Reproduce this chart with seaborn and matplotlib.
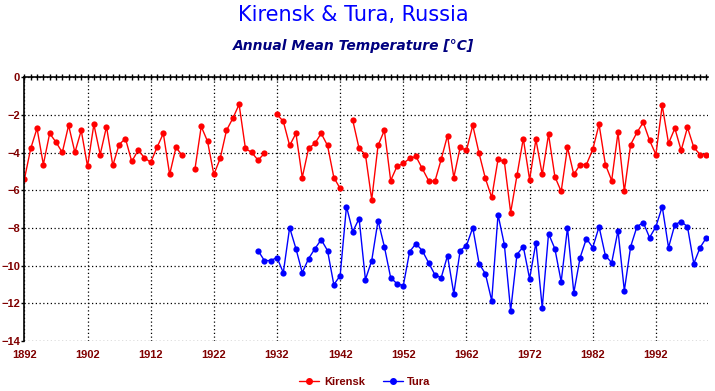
"""
Kirensk & Tura annual mean temperature chart
"""
import numpy as np
import pandas as pd
import matplotlib
matplotlib.use("Agg")
import matplotlib.pyplot as plt
from matplotlib.ticker import MultipleLocator
from matplotlib.lines import Line2D
import seaborn as sns

nan = np.nan

kirensk_years = list(range(1892, 2001))
kirensk_temp = [
    -5.41, -3.78, -2.71, -4.63, -2.98, -3.44, -3.99, -2.55, -3.99, -2.82,   # 1892-1901
    -4.73, -2.50, -4.10, -2.62, -4.68, -3.57, -3.25, -4.47, -3.88, -4.26,   # 1902-1911
    -4.52, -3.72, -2.98, -5.16, -3.72, -4.15, nan, -4.89, -2.61, -3.40,     # 1912-1921
    -5.16, -4.31, -2.82, -2.18, -1.44, -3.78, -3.99, -4.40, -4.04, nan,     # 1922-1931
    -1.97, -2.34, -3.62, -2.98, -5.32, -3.78, -3.51, -2.98, -3.62, -5.32,   # 1932-1941
    -5.90, nan, -2.29, -3.78, -4.10, -6.49, -3.62, -2.82, -5.48, -4.73,     # 1942-1951
    -4.57, -4.31, -4.20, -4.84, -5.48, -5.53, -4.36, -3.09, -5.32, -3.72,   # 1952-1961
    -3.88, -2.55, -4.04, -5.37, -6.38, -4.36, -4.47, -7.18, -5.21, -3.25,   # 1962-1971
    -5.43, -3.30, -5.16, -3.03, -5.27, -6.06, -3.72, -5.16, -4.63, -4.63,   # 1972-1981
    -3.83, -2.50, -4.63, -5.48, -2.93, -6.06, -3.57, -2.93, -2.39, -3.35,   # 1982-1991
    -4.10, -1.49, -3.51, -2.71, -3.88, -2.66, -3.72, -4.10, -4.10,          # 1992-2000
]

tura_years = list(range(1929, 2001))
tura_temp = [
    -9.20, -9.73, -9.73,                                                    # 1929-1931
    -9.57, -10.37, -7.98, -9.10, -10.37, -9.63, -9.10, -8.62, -9.20, -11.01,  # 1932-1941
    -10.53, -6.86, -8.19, -7.50, -10.74, -9.73, -7.61, -8.99, -10.64, -10.96,  # 1942-1951
    -11.06, -9.26, -8.83, -9.20, -9.84, -10.48, -10.64, -9.47, -11.49, -9.20,  # 1952-1961
    -8.94, -7.98, -9.89, -10.43, -11.86, -7.29, -8.88, -12.39, -9.41, -8.99,   # 1962-1971
    -10.69, -8.78, -12.23, -8.30, -9.10, -10.85, -7.98, -11.44, -9.57, -8.56,  # 1972-1981
    -9.04, -7.93, -9.47, -9.84, -8.14, -11.33, -8.99, -7.93, -7.71, -8.51,     # 1982-1991
    -7.93, -6.86, -9.04, -7.82, -7.66, -7.93, -9.89, -9.04, -8.51,             # 1992-2000
]

year_ticks = list(range(1892, 2000, 10))
temp_ticks = list(range(-14, 1, 2))

stations = ["Kirensk", "Tura"]
colors = {"Kirensk": "#ff0000", "Tura": "#0000ff"}
label_color = "#800000"


def to_frame(name, years, temps):
    df = pd.DataFrame({"year": years, "temp": temps, "station": name})
    # split into runs so that missing years leave a gap in the line
    df["segment"] = name + df["temp"].isna().cumsum().astype(str)
    return df.dropna()


data = pd.concat([
    to_frame("Kirensk", kirensk_years, kirensk_temp),
    to_frame("Tura", tura_years, tura_temp),
])

sns.set_theme(style="white")
plt.rcParams["font.family"] = ["Liberation Sans", "DejaVu Sans"]

fig = plt.figure(figsize=(7.15, 3.91), dpi=100, facecolor="white")
ax = fig.add_axes([24.4 / 715, 1 - 341 / 391, (708 - 24.4) / 715, (341 - 77.3) / 391])

sns.lineplot(data=data, x="year", y="temp", hue="station", units="segment",
             estimator=None, palette=colors, hue_order=stations,
             marker="o", markersize=4.5, markeredgewidth=0, linewidth=1.0,
             legend=False, ax=ax)

ax.set_xlim(1892, 2000.25)
ax.set_ylim(-14, 0)
ax.set_xlabel("")
ax.set_ylabel("")

ax.set_xticks(year_ticks)
ax.xaxis.set_minor_locator(MultipleLocator(1))
ax.set_yticks(temp_ticks)

ax.grid(True, which="major", color="black", linestyle=(0, (1, 2)), linewidth=0.9)
ax.set_axisbelow(True)

for side in ["right", "bottom"]:
    ax.spines[side].set_visible(False)
for side in ["left", "top"]:
    ax.spines[side].set_color("black")
    ax.spines[side].set_linewidth(1.2)

ax.tick_params(axis="x", which="both", bottom=False, top=True, direction="inout",
               length=5, width=1, color="black", labelbottom=True, labeltop=False,
               labelsize=8, labelcolor=label_color, pad=4)
ax.tick_params(axis="y", which="major", left=True, direction="out", length=2,
               width=1, color="black", labelsize=8, labelcolor=label_color, pad=1)
for lab in ax.get_xticklabels() + ax.get_yticklabels():
    lab.set_fontweight("bold")

fig.text(0.494, 1 - 15 / 391, "Kirensk & Tura, Russia", ha="center", va="center",
         color="#0000ff", fontsize=15, family=["DejaVu Sans"])
fig.text(0.494, 1 - 46 / 391, "Annual Mean Temperature [°C]", ha="center", va="center",
         color="#000080", fontsize=10, fontweight="bold", fontstyle="italic",
         family=["DejaVu Sans"])

handles = [Line2D([], [], color=colors[s], marker="o", markersize=4, linewidth=1.0)
           for s in stations]
leg = fig.legend(handles, stations, loc="center", bbox_to_anchor=(365 / 715, 1 - 382 / 391),
                 ncol=2, frameon=False, handlelength=1.8, handletextpad=0.4,
                 columnspacing=1.6, fontsize=8)
for t in leg.get_texts():
    t.set_color(label_color)
    t.set_fontweight("bold")

fig.savefig("out.png", dpi=100, facecolor="white")
